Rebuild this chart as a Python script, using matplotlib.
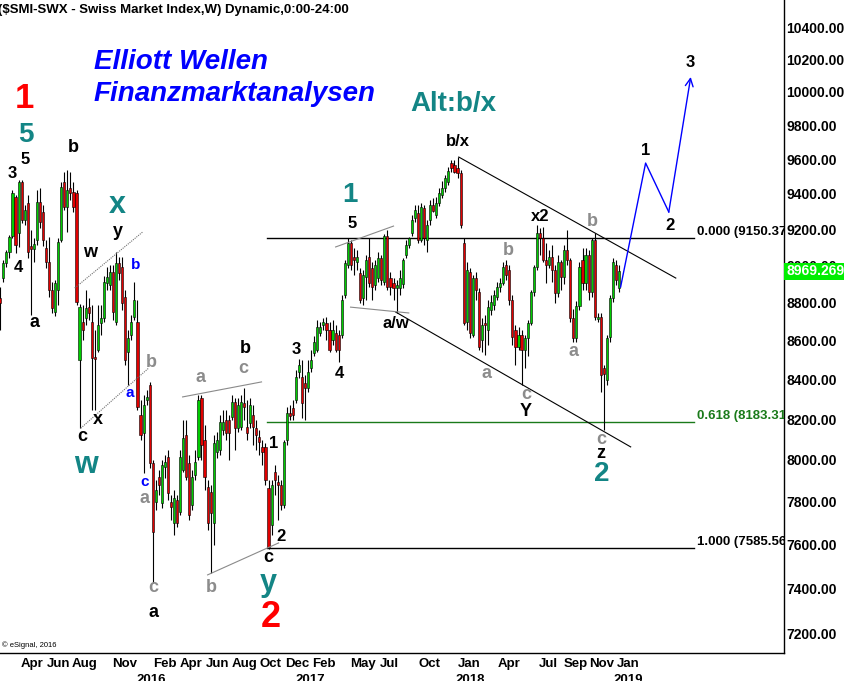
import matplotlib
matplotlib.use('Agg')
import matplotlib.pyplot as plt
import matplotlib.transforms as mtransforms
from matplotlib.ticker import NullLocator, NullFormatter
import numpy as np
import pandas as pd

START = pd.Timestamp('2015-01-19')   # first weekly bar

opens = [8825, 8932, 9014, 9074, 9163, 9382, 9179, 9467, 9252, 9348, 9107, 9091, 9140, 9353, 9297, 9096, 9019, 8868, 8750, 8868,
         9140, 9467, 9325, 9433, 9410, 9405, 8499, 8697, 8718, 8776, 8697, 8515, 8551, 8692, 8718, 8905, 8894, 8965, 8697, 9014,
         8992, 8830, 8541, 8629, 8724, 8697, 8221, 8131, 8296, 8372, 7985, 7798, 7917, 7794, 7965, 8014, 7798, 7700, 7808, 7751,
         7951, 8121, 7985, 7784, 7927, 8014, 8306, 8097, 7869, 7846, 7700, 8038, 8048, 8146, 8196, 8196, 8211, 8286, 8155, 8160,
         8281, 8160, 8181, 8221, 8155, 8111, 8063, 8063, 7865, 7690, 7942, 7894, 7879, 7784, 8097, 8231, 8256, 8296, 8438, 8412,
         8382, 8356, 8458, 8535, 8551, 8639, 8681, 8692, 8655, 8603, 8639, 8629, 8629, 8841, 9003, 9124, 9047, 9019, 8959, 8825,
         8938, 9047, 8987, 8894, 8932, 9041, 8911, 9163, 8932, 8905, 8878, 8878, 8900, 9058, 9113, 9179, 9263, 9291, 9140, 9319,
         9140, 9252, 9336, 9280, 9348, 9393, 9433, 9467, 9577, 9566, 9548, 9519, 9124, 8697, 8965, 8629, 8932, 8857, 8603, 8692,
         8655, 8761, 8787, 8830, 8884, 8905, 9003, 8976, 8814, 8655, 8567, 8629, 8551, 8613, 8692, 8857, 8992, 9179, 9152, 9030,
         9003, 9047, 8976, 8851, 9019, 8938, 9085, 9030, 8718, 8613, 8781, 9030, 8905, 9058, 8857, 9140, 8713, 8724, 8458, 8397,
         8618, 8825, 9003, 8878]
highs = [8884, 9030, 9085, 9168, 9422, 9393, 9479, 9479, 9336, 9393, 9196, 9152, 9422, 9433, 9336, 9140, 9157, 8911, 8921, 9152,
         9467, 9525, 9537, 9525, 9467, 9422, 8792, 8787, 8868, 8825, 8787, 8655, 8787, 8787, 8943, 8992, 9003, 9003, 9074, 9047,
         9047, 8868, 8655, 8734, 8911, 8814, 8296, 8321, 8346, 8387, 7999, 7903, 7951, 7999, 8024, 8048, 7832, 7855, 7832, 8048,
         8196, 8196, 8024, 7951, 8048, 8321, 8321, 8171, 7903, 7879, 8121, 8136, 8221, 8246, 8246, 8221, 8321, 8306, 8306, 8321,
         8356, 8296, 8306, 8271, 8196, 8146, 8097, 8082, 7903, 7903, 7975, 7927, 7903, 8097, 8260, 8271, 8296, 8448, 8504, 8499,
         8423, 8499, 8551, 8624, 8708, 8697, 8718, 8724, 8697, 8708, 8681, 8655, 8841, 9030, 9152, 9140, 9096, 9085, 8987, 8976,
         9058, 9152, 9019, 9030, 9074, 9058, 9174, 9196, 8965, 8932, 8921, 8976, 9041, 9140, 9157, 9280, 9336, 9336, 9348, 9336,
         9252, 9365, 9376, 9382, 9433, 9473, 9508, 9554, 9595, 9595, 9612, 9537, 9152, 9019, 8987, 8948, 8965, 8878, 8718, 8734,
         8814, 8841, 8868, 8911, 8932, 9019, 9030, 9003, 8841, 8681, 8671, 8655, 8629, 8708, 8868, 9003, 9224, 9207, 9213, 9124,
         9085, 9113, 9003, 9058, 9030, 9113, 9196, 9041, 8765, 8808, 9019, 9096, 9096, 9085, 9152, 9179, 8745, 8745, 8474, 8629,
         8841, 9041, 9030, 9003]
lows = [8655, 8911, 8992, 9041, 9152, 9069, 9102, 9235, 9224, 9041, 8734, 9019, 9113, 9207, 9107, 8987, 8830, 8745, 8729, 8787,
        9130, 9308, 9185, 9365, 9297, 8787, 8155, 8603, 8681, 8708, 8246, 8246, 8541, 8629, 8697, 8868, 8868, 8708, 8681, 8921,
        8761, 8474, 8372, 8603, 8708, 8246, 8097, 7937, 8271, 7961, 7425, 7761, 7832, 7770, 7913, 7808, 7714, 7644, 7681, 7737,
        7942, 7903, 7714, 7761, 7903, 7999, 7999, 7855, 7667, 7470, 7598, 8009, 8024, 8121, 8097, 7999, 8196, 8048, 8136, 8146,
        8196, 8097, 8155, 8072, 8048, 8024, 7975, 7879, 7580, 7644, 7832, 7714, 7761, 7770, 8072, 8196, 8196, 8281, 8407, 8206,
        8196, 8336, 8438, 8520, 8541, 8624, 8655, 8603, 8541, 8577, 8541, 8489, 8613, 8825, 8987, 8976, 8948, 8976, 8798, 8787,
        8814, 8884, 8814, 8868, 8911, 8894, 8894, 8868, 8841, 8814, 8745, 8841, 8878, 9041, 9096, 9163, 9241, 9124, 9130, 9113,
        9074, 9224, 9297, 9263, 9331, 9376, 9410, 9450, 9525, 9519, 9490, 9207, 8681, 8655, 8613, 8618, 8814, 8551, 8541, 8525,
        8577, 8734, 8761, 8814, 8857, 8894, 8921, 8787, 8577, 8474, 8551, 8372, 8458, 8520, 8681, 8835, 8976, 9058, 9019, 8905,
        8987, 8911, 8798, 8830, 8868, 8900, 9003, 8697, 8592, 8592, 8760, 8868, 8868, 8814, 8830, 8708, 8697, 8336, 8146, 8372,
        8592, 8803, 8894, 8857]
closes = [8798, 9014, 9074, 9157, 9405, 9113, 9467, 9252, 9308, 9074, 9091, 9118, 9354, 9241, 9140, 9019, 8868, 8771, 8905, 9130,
          9439, 9325, 9422, 9405, 9325, 8803, 8776, 8655, 8771, 8745, 8510, 8504, 8681, 8718, 8911, 8938, 8965, 8750, 9014, 8959,
          8798, 8499, 8613, 8697, 8814, 8260, 8121, 8271, 8311, 7985, 7658, 7855, 7879, 7975, 7990, 7841, 7775, 7817, 7700, 8014,
          8107, 7917, 7737, 7917, 7990, 8296, 8072, 7917, 7700, 7747, 8082, 8097, 8186, 8186, 8131, 8131, 8286, 8155, 8271, 8286,
          8260, 8131, 8271, 8160, 8121, 8087, 8038, 7903, 7589, 7879, 7903, 7879, 7784, 8087, 8231, 8216, 8221, 8412, 8474, 8281,
          8356, 8438, 8499, 8592, 8671, 8671, 8697, 8655, 8551, 8655, 8551, 8551, 8814, 9014, 9124, 9003, 9030, 9047, 8814, 8948,
          9030, 8905, 8884, 9003, 9041, 8921, 9163, 8884, 8884, 8878, 8894, 8932, 9030, 9113, 9152, 9252, 9308, 9140, 9325, 9152,
          9224, 9336, 9305, 9348, 9405, 9433, 9490, 9531, 9548, 9525, 9519, 9224, 8692, 8976, 8639, 8932, 8868, 8567, 8681, 8681,
          8776, 8803, 8841, 8884, 8905, 8992, 8948, 8814, 8618, 8567, 8629, 8551, 8613, 8692, 8857, 8992, 9179, 9152, 9030, 9003,
          9047, 8976, 8851, 9019, 8938, 9085, 9030, 8718, 8613, 8781, 8992, 8905, 9058, 8857, 9140, 8724, 8724, 8422, 8428, 8613,
          8825, 9019, 8921, 8969.27]

month_labels = ['Apr', 'Jun', 'Aug', 'Nov', 'Feb', 'Apr', 'Jun', 'Aug', 'Oct', 'Dec',
                'Feb', 'May', 'Jul', 'Oct', 'Jan', 'Apr', 'Jul', 'Sep', 'Nov', 'Jan']
month_dates = ['2015-04-01', '2015-06-01', '2015-08-01', '2015-11-01', '2016-02-01', '2016-04-01',
               '2016-06-01', '2016-08-01', '2016-10-01', '2016-12-01', '2017-02-01', '2017-05-01',
               '2017-07-01', '2017-10-01', '2018-01-01', '2018-04-01', '2018-07-01', '2018-09-01',
               '2018-11-01', '2019-01-01']
year_labels = ['2016', '2017', '2018', '2019']
year_dates = ['2016-01-01', '2017-01-01', '2018-01-01', '2019-01-01']

price_ticks = np.arange(7200, 10401, 200)

fib_ratios = ['0.000', '0.618', '1.000']
fib_levels = [9150.37, 8183.31, 7585.56]
last_price = 8969.2695

# trend lines: (week, price) pairs
channel_top = [(150.4, 9612), (221.6, 8932)]
channel_bottom = [(129.7, 8750), (206.8, 8063)]
grey_lines = [[(110.0, 9102), (129.0, 9218)],
              [(114.9, 8776), (134.0, 8745)],
              [(59.8, 8311), (85.7, 8387)],
              [(68.0, 7461), (91.3, 7607)]]
dotted_lines = [[(24.4, 8878), (46.7, 9185)],
                [(26.4, 8155), (48.7, 8458)]]
proj_weeks = [203.5, 211.7, 219.3, 226.5]
proj_prices = [8884, 9577, 9297, 10090]

TEAL = '#138585'
GREY = '#8c8c8c'
BLUE = '#0000ff'
RED = '#ff0000'
K = 'black'

# text, week, price, colour, size
wave_labels = [
    ('1', 8.0, 9962, RED, 25), ('5', 8.3, 9741, TEAL, 20), ('5', 8.0, 9595, K, 12),
    ('3', 4.05, 9519, K, 12), ('b', 24.1, 9665, K, 13), ('x', 38.5, 9336, TEAL, 22),
    ('y', 38.5, 9185, K, 13), ('w', 29.6, 9069, K, 13), ('4', 6.0, 8992, K, 12),
    ('a', 11.3, 8692, K, 13), ('b', 44.4, 9003, BLUE, 11), ('a', 42.4, 8331, BLUE, 11),
    ('b', 49.7, 8484, GREY, 13), ('x', 31.9, 8196, K, 13), ('c', 27.0, 8112, K, 13),
    ('w', 28.0, 7975, TEAL, 22), ('c', 47.4, 7894, BLUE, 11), ('a', 47.4, 7817, GREY, 13),
    ('c', 50.3, 7402, GREY, 13), ('a', 50.3, 7291, K, 13), ('b', 69.3, 7402, GREY, 13),
    ('a', 65.7, 8412, GREY, 13), ('c', 79.8, 8458, GREY, 13), ('b', 80.5, 8561, K, 13),
    ('1', 89.7, 8082, K, 12), ('2', 92.0, 7635, K, 12), ('c', 88.0, 7538, K, 13),
    ('y', 88.0, 7425, TEAL, 22), ('2', 88.7, 7273, RED, 26), ('3', 97.2, 8551, K, 12),
    ('4', 111.3, 8428, K, 12), ('5', 115.3, 9235, K, 12), ('1', 114.6, 9393, TEAL, 20),
    ('a/w', 129.7, 8687, K, 12), ('b/x', 150.1, 9700, K, 12), ('Alt:b/x', 148.7, 9926, TEAL, 20),
    ('b', 166.8, 9085, GREY, 13), ('a', 159.6, 8428, GREY, 13), ('c', 172.4, 8321, GREY, 13),
    ('Y', 172.4, 8236, K, 13), ('x2', 177.0, 9269, K, 12), ('a', 188.1, 8541, GREY, 13),
    ('b', 194.3, 9246, GREY, 13), ('c', 197.0, 8097, GREY, 13), ('z', 197.0, 8030, K, 13),
    ('2', 197.3, 7930, TEAL, 20), ('1', 211.7, 9653, K, 12), ('2', 219.6, 9224, K, 12),
    ('3', 226.5, 10176, K, 12),
]


def wk(d):
    return (pd.Timestamp(d) - START).days / 7.0


plt.rcParams['font.family'] = ['Liberation Sans', 'DejaVu Sans']

fig = plt.figure(figsize=(8.44, 6.81), dpi=100)
ax = fig.add_axes([0, 1 - 653 / 681, 784 / 844, 653 / 681])
ax.set_yscale('log')

o = np.array(opens, float)
h = np.array(highs, float)
l = np.array(lows, float)
c = np.array(closes, float)
x = np.arange(len(c))
up = c >= o

ax.vlines(x, l, h, color='black', lw=0.8, zorder=2)
ax.bar(x[up], c[up] - o[up], bottom=o[up], width=0.7, color='#00cc00',
       edgecolor='black', linewidth=0.4, zorder=3)
ax.bar(x[~up], o[~up] - c[~up], bottom=c[~up], width=0.7, color='#e00000',
       edgecolor='black', linewidth=0.4, zorder=3)

# fibonacci levels
fib_colors = ['black', '#1a7a1a', 'black']
for ratio, lvl, col in zip(fib_ratios, fib_levels, fib_colors):
    ax.plot([87.4, 227.5], [lvl, lvl], color=col, lw=1.0, zorder=1)
    ax.text(228.6, lvl, f'{ratio} ({lvl:.2f})', color=col, fontsize=9.5, fontweight='bold',
            ha='left', va='bottom', clip_on=True)

for seg in (channel_top, channel_bottom):
    ax.plot([p[0] for p in seg], [p[1] for p in seg], color='black', lw=0.8, zorder=4)
for seg in grey_lines:
    ax.plot([p[0] for p in seg], [p[1] for p in seg], color='#8a8a8a', lw=0.8, zorder=4)
for seg in dotted_lines:
    ax.plot([p[0] for p in seg], [p[1] for p in seg], color='#707070', lw=0.8, ls=(0, (1, 1)), zorder=4)

ax.plot(proj_weeks[:-1], proj_prices[:-1], color=BLUE, lw=1.0, zorder=4)
ax.annotate('', xy=(proj_weeks[-1], proj_prices[-1]), xytext=(proj_weeks[-2], proj_prices[-2]),
            arrowprops=dict(arrowstyle='->', color=BLUE, lw=1.0, shrinkA=0, shrinkB=0,
                            mutation_scale=14))

for txt, wx, pr, col, size in wave_labels:
    ax.text(wx, pr, txt, color=col, fontsize=size, fontweight='bold',
            ha='center', va='center', zorder=5)

ax.text(94 / 784, 1 - 62 / 653, 'Elliott Wellen', transform=ax.transAxes, color=BLUE,
        fontsize=20, fontweight='bold', fontstyle='italic', ha='left', va='center')
ax.text(94 / 784, 1 - 94 / 653, 'Finanzmarktanalysen', transform=ax.transAxes, color=BLUE,
        fontsize=20, fontweight='bold', fontstyle='italic', ha='left', va='center')
ax.text(0.003, 1 - 645 / 653, '\u00a9 eSignal, 2016', transform=ax.transAxes, fontsize=5.5,
        ha='left', va='center')

fig.text(-0.002, 1 - 10 / 681, '($SMI-SWX - Swiss Market Index,W) Dynamic,0:00-24:00',
         fontsize=9.5, fontweight='bold', ha='left', va='center')

ax.set_xlim(-0.1, 257.1)
ax.set_ylim(7116, 10572)

# price axis
ax.yaxis.tick_right()
ax.set_yticks(price_ticks)
ax.set_yticklabels([f'{v:.2f}' for v in price_ticks])
ax.yaxis.set_minor_locator(NullLocator())
ax.yaxis.set_minor_formatter(NullFormatter())
ax.tick_params(axis='y', length=0, pad=1.5, labelsize=10)
for lab in ax.get_yticklabels():
    lab.set_fontweight('bold')

tr = mtransforms.blended_transform_factory(ax.transAxes, ax.transData)
ax.text(1.0 + 2 / 784, last_price, f'{last_price:.4f}', transform=tr, color='white',
        fontsize=10, fontweight='bold', ha='left', va='center', zorder=10, clip_on=False,
        bbox=dict(boxstyle='square,pad=0.12', fc='#00ee00', ec='none'))

# time axis
ax.set_xticks([wk(d) for d in month_dates])
ax.set_xticklabels(month_labels)
ax.tick_params(axis='x', length=0, pad=3.5, labelsize=9.5)
for lab in ax.get_xticklabels():
    lab.set_fontweight('bold')
trx = mtransforms.blended_transform_factory(ax.transData, ax.transAxes)
for yl, yd in zip(year_labels, year_dates):
    ax.text(wk(yd), -21 / 653, yl, transform=trx, fontsize=9.5, fontweight='bold',
            ha='center', va='top', clip_on=False)

for side in ('left', 'top'):
    ax.spines[side].set_visible(False)
for side in ('right', 'bottom'):
    ax.spines[side].set_linewidth(1.0)
    ax.spines[side].set_color('black')

fig.savefig('out.png', dpi=100)
